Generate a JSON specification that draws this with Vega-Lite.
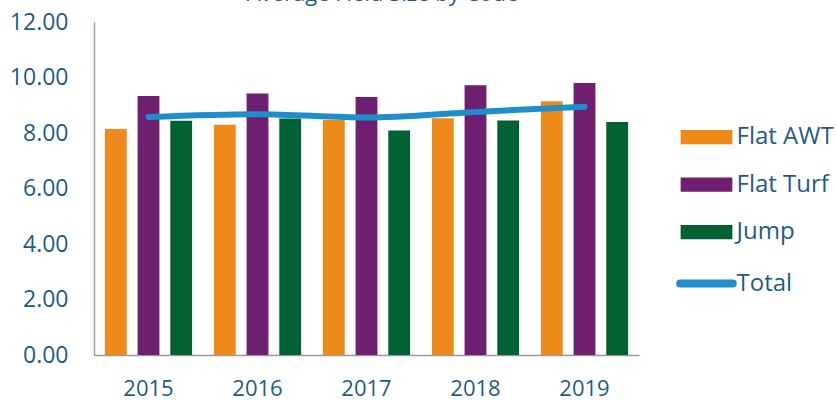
{
  "$schema": "https://vega.github.io/schema/vega-lite/v6.json",
  "width": 545,
  "height": 333,
  "autosize": {"type": "none"},
  "padding": {"left": 94, "top": 22, "right": 197, "bottom": 45},
  "background": "white",
  "config": {
    "view": {"stroke": null},
    "font": "Open Sans"
  },
  "title": {
    "text": "Average Field Size by Code",
    "fontSize": 22,
    "font": "Open Sans",
    "fontWeight": "normal",
    "color": "#1F5C87",
    "anchor": "middle",
    "frame": "group",
    "dx": 16,
    "dy": 25,
    "offset": 13,
    "baseline": "alphabetic"
  },
  "datasets": {
    "bars": [
      {"year": "2015", "series": "Flat AWT", "value": 8.14},
      {"year": "2015", "series": "Flat Turf", "value": 9.33},
      {"year": "2015", "series": "Jump", "value": 8.44},
      {"year": "2016", "series": "Flat AWT", "value": 8.30},
      {"year": "2016", "series": "Flat Turf", "value": 9.42},
      {"year": "2016", "series": "Jump", "value": 8.52},
      {"year": "2017", "series": "Flat AWT", "value": 8.47},
      {"year": "2017", "series": "Flat Turf", "value": 9.30},
      {"year": "2017", "series": "Jump", "value": 8.09},
      {"year": "2018", "series": "Flat AWT", "value": 8.53},
      {"year": "2018", "series": "Flat Turf", "value": 9.72},
      {"year": "2018", "series": "Jump", "value": 8.45},
      {"year": "2019", "series": "Flat AWT", "value": 9.14},
      {"year": "2019", "series": "Flat Turf", "value": 9.80},
      {"year": "2019", "series": "Jump", "value": 8.40}
    ],
    "total": [
      {"year": "2015", "series": "Total", "value": 8.58},
      {"year": "2016", "series": "Total", "value": 8.68},
      {"year": "2017", "series": "Total", "value": 8.56},
      {"year": "2018", "series": "Total", "value": 8.76},
      {"year": "2019", "series": "Total", "value": 8.95}
    ]
  },
  "encoding": {
    "x": {
      "field": "year",
      "type": "nominal",
      "scale": {"paddingInner": 0.2, "paddingOuter": 0.1},
      "axis": {
        "title": null,
        "labelAngle": 0,
        "labelFontSize": 22,
        "labelColor": "#1F5C87",
        "labelFont": "Open Sans",
        "labelPadding": 23,
        "ticks": false,
        "domainColor": "#9a9a9a",
        "domainWidth": 1.5,
        "grid": false
      }
    },
    "y": {
      "field": "value",
      "type": "quantitative",
      "scale": {"domain": [0, 12], "nice": false},
      "axis": {
        "title": null,
        "values": [0, 2, 4, 6, 8, 10, 12],
        "format": ".2f",
        "labelFontSize": 23,
        "labelColor": "#1F5C87",
        "labelFont": "Open Sans",
        "labelPadding": 26,
        "ticks": false,
        "grid": false,
        "domainColor": "#9a9a9a",
        "domainWidth": 1.5
      }
    },
    "color": {
      "field": "series",
      "type": "nominal",
      "scale": {
        "domain": ["Flat AWT", "Flat Turf", "Jump", "Total"],
        "range": ["#EE8A1A", "#6F1F70", "#006133", "#1E8FCB"]
      },
      "legend": {
        "title": null,
        "orient": "none",
        "legendX": 600.5,
        "legendY": 103,
        "padding": 0,
        "labelFontSize": 24,
        "labelFont": "Open Sans",
        "labelColor": "#1F5C87",
        "labelOffset": 18,
        "rowPadding": 23.5,
        "symbolSize": 225,
        "encode": {
          "symbols": {
            "update": {
              "shape": {"signal": "datum.value === 'Total' ? 'M-3.5,0H3.5' : 'M-3.45,-0.95H3.45V0.95H-3.45Z'"},
              "fill": {"signal": "datum.value === 'Total' ? 'transparent' : (datum.value === 'Flat AWT' ? '#EE8A1A' : (datum.value === 'Flat Turf' ? '#6F1F70' : '#006133'))"},
              "stroke": {"signal": "datum.value === 'Total' ? '#1E8FCB' : 'transparent'"},
              "strokeWidth": {"signal": "datum.value === 'Total' ? 8 : 0"},
              "strokeCap": {"value": "round"},
              "opacity": {"value": 1}
            }
          }
        }
      }
    }
  },
  "layer": [
    {
      "data": {"name": "bars"},
      "mark": {"type": "bar"},
      "encoding": {
        "xOffset": {
          "field": "series",
          "type": "nominal",
          "sort": ["Flat AWT", "Flat Turf", "Jump"],
          "scale": {"paddingInner": 0.333, "paddingOuter": 0}
        }
      }
    },
    {
      "data": {"name": "total"},
      "mark": {"type": "line", "strokeWidth": 6, "strokeCap": "round", "strokeJoin": "round", "interpolate": "monotone"},
      "encoding": {}
    }
  ]
}
